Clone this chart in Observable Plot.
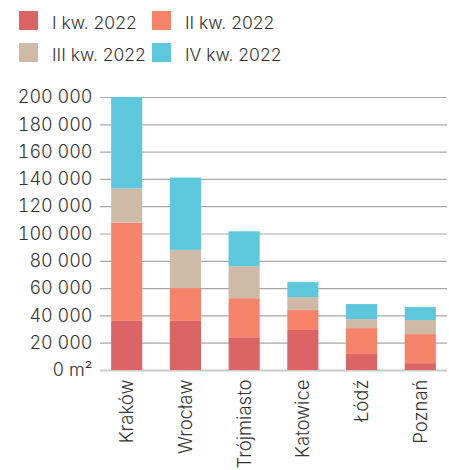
<!DOCTYPE html>
<html>
<head>
<meta charset="utf-8">
<script src="https://cdn.jsdelivr.net/npm/d3@7"></script>
<script src="https://cdn.jsdelivr.net/npm/@observablehq/plot@0.6"></script>
<style>
  body { margin: 0; background: #fff; font-family: Inter, "Noto Sans", sans-serif; }
  #legend { position: relative; height: 80px; width: 449px; }
  .item { position: absolute; display: flex; align-items: flex-start; font-size: 17.5px; color: #333; font-weight: 300; }
  .sw { width: 19px; height: 19px; margin-right: 14px; }
  .lbl { line-height: 19px; padding-top: 2px; }
</style>
</head>
<body>
<div id="legend"></div>
<div id="chart"></div>
<script>
const cities = ["Kraków", "Wrocław", "Trójmiasto", "Katowice", "Łódź", "Poznań"];
const seriesNames = ["I kw. 2022", "II kw. 2022", "III kw. 2022", "IV kw. 2022"];
const q1 = [36000, 36000, 24000, 29300, 11700, 5000];
const q2 = [72000, 24000, 28600, 14600, 19000, 21300];
const q3 = [25000, 28000, 23400, 9500, 6600, 10300];
const q4 = [67000, 53000, 25600, 11000, 11000, 9500];
const colors = ["#db6464", "#f5846b", "#cebaa6", "#5dc8dc"];
const yTicks = [0, 20000, 40000, 60000, 80000, 100000, 120000, 140000, 160000, 180000, 200000];

const seriesValues = [q1, q2, q3, q4];
const data = [];
cities.forEach((c, i) => {
  seriesValues.forEach((vals, s) => {
    data.push({city: c, series: seriesNames[s], value: vals[i]});
  });
});

// legend
const legend = document.getElementById("legend");
const pos = [[19, 11], [152, 11], [19, 43], [152, 43]];
seriesNames.forEach((name, i) => {
  const it = document.createElement("div");
  it.className = "item";
  it.style.left = pos[i][0] + "px";
  it.style.top = pos[i][1] + "px";
  it.innerHTML = `<span class="sw" style="background:${colors[i]}"></span><span class="lbl">${name}</span>`;
  legend.appendChild(it);
});

const fmt = d => d === 0 ? "0 m²" : d3.format(",")(d).replace(/,/g, " ");

const chart = Plot.plot({
  width: 449,
  height: 390,
  marginLeft: 100,
  marginRight: 2,
  marginTop: 17,
  marginBottom: 100,
  style: {fontFamily: "Inter, 'Noto Sans', sans-serif", fontSize: "18px", color: "#333", fontWeight: 300},
  x: {domain: cities, paddingInner: 0.47, paddingOuter: 0.19, round: false, label: null},
  y: {domain: [0, 200000], label: null},
  color: {domain: seriesNames, range: colors},
  marks: [
    Plot.ruleY(yTicks.filter(d => d > 0), {stroke: "#a8a8a8", strokeWidth: 1.2}),
    Plot.ruleY([0], {stroke: "#cccccc", strokeWidth: 2}),
    Plot.barY(data, {x: "city", y: "value", fill: "series"}),
    Plot.axisY({ticks: yTicks, tickFormat: fmt, tickSize: 0, tickPadding: 8, label: null}),
    Plot.axisX({tickSize: 0, tickRotate: -90, tickPadding: 9, fontSize: 18.5, label: null})
  ]
});
document.getElementById("chart").appendChild(chart);
</script>
</body>
</html>
